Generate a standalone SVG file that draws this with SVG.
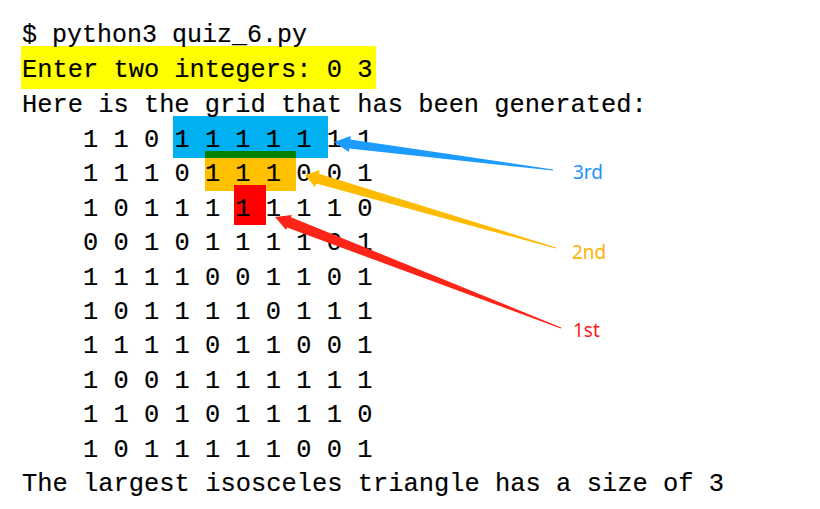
<svg xmlns="http://www.w3.org/2000/svg" width="820" height="509" viewBox="0 0 820 509">
<style>
.t{font-family:"Liberation Mono","Courier New",monospace;font-size:25.4px;fill:#000;stroke:#000;stroke-width:0.15px}
.lbl{font-family:"Noto Sans","Liberation Sans",sans-serif;font-size:19px}
</style>
<rect width="820" height="509" fill="#fff"/>
<g id="highlights">
<rect x="21" y="46" width="355" height="43" fill="#FFFF00"/>
<rect x="173" y="116" width="155" height="42" fill="#00B0F0"/>
<rect x="205" y="151" width="91" height="7" fill="#008000"/>
<rect x="205" y="158" width="91" height="33" fill="#FFC000"/>
<rect x="234" y="185" width="32" height="40" fill="#FF0000"/>
</g>
<g id="console">
<text class="t" x="22" y="42" textLength="285" lengthAdjust="spacingAndGlyphs">$ python3 quiz_6.py</text>
<text class="t" x="22" y="77">Enter two integers: 0 3</text>
<text class="t" x="22" y="112">Here is the grid that has been generated:</text>
<text class="t" x="83" y="147">1 1 0 1 1 1 1 1 1 1</text>
<text class="t" x="83" y="181.4">1 1 1 0 1 1 1 0 0 1</text>
<text class="t" x="83" y="215.8">1 0 1 1 1 1 1 1 1 0</text>
<text class="t" x="83" y="250.2">0 0 1 0 1 1 1 1 0 1</text>
<text class="t" x="83" y="284.6">1 1 1 1 0 0 1 1 0 1</text>
<text class="t" x="83" y="319">1 0 1 1 1 1 0 1 1 1</text>
<text class="t" x="83" y="353.4">1 1 1 1 0 1 1 0 0 1</text>
<text class="t" x="83" y="387.8">1 0 0 1 1 1 1 1 1 1</text>
<text class="t" x="83" y="422.2">1 1 0 1 0 1 1 1 1 0</text>
<text class="t" x="83" y="456.6">1 0 1 1 1 1 1 0 0 1</text>
<text class="t" x="22" y="491" textLength="702" lengthAdjust="spacingAndGlyphs">The largest isosceles triangle has a size of 3</text>
</g>
<g id="connectors">
<polygon id="arrow-3rd" fill="#1E9BFF" points="334,142 350.9,136.1 350.4,139.5 553.1,169.4 552.9,170.6 349.3,148.5 348.9,151.9"/>
<polygon id="arrow-2nd" fill="#FFBB00" points="305,175 320,170 318.9,173.8 556.2,247.4 555.8,248.6 316.1,183.4 315,187.2"/>
<polygon id="arrow-1st" fill="#FF2418" points="275,217 291.9,215 291,217.3 561.2,327.4 560.8,328.6 287,227.5 286.1,229.9"/>
</g>
<g id="label-3rd"><text class="lbl" x="573" y="179" fill="#1E90FF">3rd</text></g>
<g id="label-2nd"><text class="lbl" x="572" y="259" fill="#FFB300">2nd</text></g>
<g id="label-1st"><text class="lbl" x="573" y="337" fill="#FF1A1A">1st</text></g>
</svg>
